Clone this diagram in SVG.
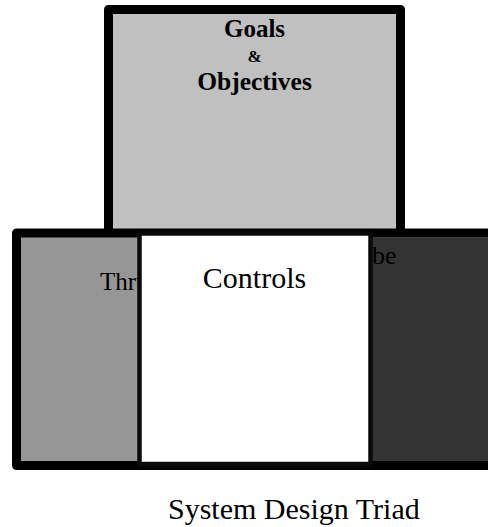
<svg xmlns="http://www.w3.org/2000/svg" width="488" height="527" viewBox="0 0 488 527">
  <style>
    .frame { stroke: #000; stroke-width: 9; stroke-linejoin: round; }
    .serif { font-family: "Liberation Serif", "Times New Roman", serif; fill: #000; }
    .title { font-weight: bold; text-anchor: middle; }
  </style>
  <rect width="488" height="527" fill="#fff"/>

  <!-- Goals & Objectives block -->
  <g id="goals">
    <rect class="frame" x="108.5" y="9.5" width="292" height="224" fill="#c0c0c0"/>
    <text class="serif title" x="254.5" y="37" font-size="25">Goals</text>
    <text class="serif title" x="254.5" y="62" font-size="17">&amp;</text>
    <text class="serif title" x="254.5" y="90" font-size="25.5">Objectives</text>
  </g>

  <!-- Base block with its two side panels -->
  <g id="base">
    <rect class="frame" x="16.5" y="233" width="480" height="232.5" fill="#969696"/>
    <rect x="250" y="237.5" width="242" height="223.5" fill="#333333"/>
  </g>

  <g id="throughput">
    <text class="serif" x="100" y="290" font-size="25">Thru</text>
  </g>

  <g id="right-panel">
    <text class="serif" x="372" y="264" font-size="26">be</text>
  </g>

  <!-- Controls panel laid over the base -->
  <g id="controls">
    <rect x="139.5" y="233.5" width="231" height="230.5" fill="#fff" stroke="#0a0a0a" stroke-width="4.5"/>
    <text class="serif" x="254.5" y="288" font-size="30" text-anchor="middle">Controls</text>
  </g>

  <g id="connectors"></g>

  <g id="caption">
    <text class="serif" x="168" y="519" font-size="30">System Design Triad</text>
  </g>
</svg>
